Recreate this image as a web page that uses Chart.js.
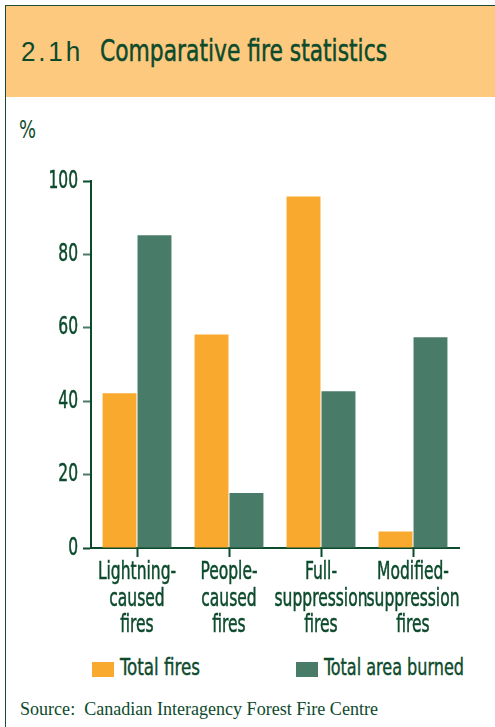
<!DOCTYPE html>
<html>
<head>
<meta charset="utf-8">
<script src="https://cdn.jsdelivr.net/npm/chart.js@4.4.0/dist/chart.umd.min.js"></script>
<style>
  html, body { margin: 0; padding: 0; background: #fff; overflow: hidden; }
  #page { position: relative; width: 495px; height: 727px; overflow: hidden; }
  #frame { position: absolute; left: 5px; top: 5px; width: 600px; height: 800px;
           border-top: 1px solid #1c4b35; border-left: 1px solid #1c4b35; }
  #head { position: absolute; left: 6px; top: 6px; width: 489px; height: 91px; background: #fdc97e; }
  .txt { position: absolute; color: #0c4a2c; white-space: nowrap; transform-origin: 0 0; }
  #num { left: 21px; top: 36px; font: 28px 'Liberation Sans', sans-serif; letter-spacing: 3px; }
  #title { left: 100px; top: 32px; font: 31px 'DejaVu Sans Condensed', 'DejaVu Sans', sans-serif;
           -webkit-text-stroke: 0.5px #0c4a2c; }
  #pct { left: 19px; top: 115px; font: 25px 'DejaVu Sans Condensed', 'DejaVu Sans', sans-serif; }
  #src { left: 20px; top: 699px; font: 18px 'Liberation Serif', serif; }
  .sw { position: absolute; width: 22px; height: 15px; }
  .lg { font: 23px 'DejaVu Sans Condensed', 'DejaVu Sans', sans-serif; -webkit-text-stroke: 0.4px #0c4a2c; }
  canvas { position: absolute; left: 0; top: 0; }
</style>
</head>
<body>
<div id="page">
  <div id="frame"></div>
  <div id="head"></div>
  <div class="txt" id="num">2.1h</div>
  <div class="txt" id="title">Comparative fire statistics</div>
  <div class="txt" id="pct">%</div>
  <div id="chartBox" style="position:absolute;left:0;top:0;width:495px;height:650px;">
    <canvas id="chart"></canvas>
  </div>
  <div id="legend"></div>
  <div class="txt" id="src">Source:&nbsp; Canadian Interagency Forest Fire Centre</div>
</div>
<script>
// data
const categories = [
  ['Lightning-', 'caused', 'fires'],
  ['People-', 'caused', 'fires'],
  ['Full-', 'suppression', 'fires'],
  ['Modified-', 'suppression', 'fires']
];
const totalFires = [42.2, 58.2, 95.8, 4.5];
const totalArea = [85.2, 15, 42.7, 57.4];
const seriesNames = ['Total fires', 'Total area burned'];
const yTicks = [0, 20, 40, 60, 80, 100];

const DARK = '#0c4a2c';
const ORANGE = '#f9a92d';
const GREEN = '#487c69';
const COND = "'DejaVu Sans Condensed', 'DejaVu Sans', sans-serif";

// squeeze html text to the width seen in the picture
function fitText(id, w) {
  const el = document.getElementById(id);
  const r = el.getBoundingClientRect();
  el.style.transform = 'scaleX(' + (w / r.width) + ')';
}

const canvas = document.getElementById('chart');
canvas.width = 495;
canvas.height = 650;
canvas.style.width = '495px';
canvas.style.height = '650px';

// the original uses a very narrow face: squeeze canvas text around its anchor
const ctx = canvas.getContext('2d');
function squeeze(fn) {
  const raw = fn.bind(ctx);
  return function (t, x, y) {
    ctx.save();
    ctx.translate(x, y);
    ctx.scale(0.69, 1);
    raw(t, 0, 0);
    ctx.restore();
  };
}
ctx.fillText = squeeze(ctx.fillText);
ctx.strokeText = squeeze(ctx.strokeText);

const chart = new Chart(ctx, {
  type: 'bar',
  data: {
    labels: categories,
    datasets: [
      { label: seriesNames[0], data: totalFires, backgroundColor: ORANGE },
      { label: seriesNames[1], data: totalArea, backgroundColor: GREEN }
    ]
  },
  options: {
    responsive: false,
    animation: false,
    devicePixelRatio: 1,
    layout: { padding: { top: 181, right: 36, left: 0, bottom: 0 } },
    plugins: { legend: { display: false }, tooltip: { enabled: false } },
    datasets: { bar: { categoryPercentage: 0.76, barPercentage: 0.97 } },
    scales: {
      x: {
        grid: { offset: false, drawOnChartArea: false, tickLength: 9, tickColor: DARK, tickWidth: 2 },
        border: { color: DARK, width: 2 },
        ticks: {
          color: DARK, padding: 2, maxRotation: 0, autoSkip: false,
          textStrokeColor: DARK, textStrokeWidth: 0.5,
          font: { family: COND, size: 25, lineHeight: 1.07 }
        },
        afterFit: s => { s.height = 102; }
      },
      y: {
        min: 0, max: 100,
        afterBuildTicks: s => { s.ticks = yTicks.map(v => ({ value: v })); },
        grid: {
          drawOnChartArea: false, tickLength: 8, tickWidth: 2,
          tickColor: c => (c.tick && (c.tick.value === 0 || c.tick.value === 100)) ? DARK : GREEN
        },
        border: { color: DARK, width: 2 },
        ticks: {
          color: DARK, padding: 5, textStrokeColor: DARK, textStrokeWidth: 0.5,
          font: { family: COND, size: 25 }
        },
        afterFit: s => { s.width = 91; }
      }
    }
  }
});

// legend built from the chart's datasets
const legendPos = [92, 296];
const legendTextW = [80, 140];
const legend = document.getElementById('legend');
chart.data.datasets.forEach((ds, i) => {
  const sw = document.createElement('div');
  sw.className = 'sw';
  sw.style.left = legendPos[i] + 'px';
  sw.style.top = '662px';
  sw.style.background = ds.backgroundColor;
  legend.appendChild(sw);
  const t = document.createElement('div');
  t.className = 'txt lg';
  t.id = 'lg' + i;
  t.style.left = (legendPos[i] + 28) + 'px';
  t.style.top = '654px';
  t.textContent = ds.label;
  legend.appendChild(t);
});

fitText('num', 62);
fitText('title', 287);
fitText('pct', 17);
fitText('src', 358);
fitText('lg0', legendTextW[0]);
fitText('lg1', legendTextW[1]);
</script>
</body>
</html>
